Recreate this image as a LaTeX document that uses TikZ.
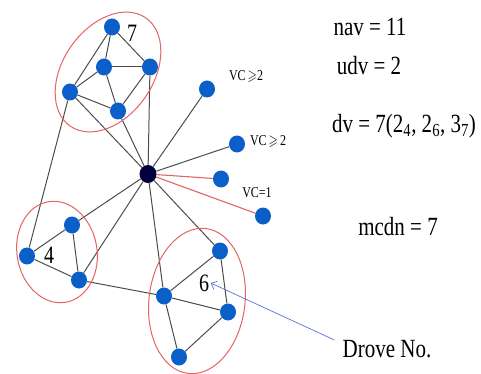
\documentclass[tikz,border=0pt]{standalone}
\usepackage{fontspec}
\setmainfont{Liberation Serif}
\usepackage{amssymb}
\usepackage{graphicx}
\usetikzlibrary{shapes.geometric,arrows.meta}

\definecolor{vblue}{RGB}{10,95,200}
\definecolor{hubnavy}{RGB}{0,0,60}
\definecolor{droved}{RGB}{228,100,100}
\definecolor{pointer}{RGB}{95,110,215}

\newcommand{\tall}[1]{\scalebox{1}[1.25]{#1}}

\begin{document}
\begin{tikzpicture}[
    x=1pt, y=-1pt,
    >={Straight Barb[length=5pt,width=9pt]},
    vx/.style={ellipse, fill=vblue, minimum width=16pt, minimum height=17pt, inner sep=0pt},
    hub/.style={ellipse, fill=hubnavy, minimum width=17pt, minimum height=18pt, inner sep=0pt},
    edge/.style={draw=black!70, line width=1pt},
    redge/.style={draw=droved, line width=1.1pt},
    droveline/.style={draw=droved, line width=1pt},
    info/.style={font=\fontsize{21}{25}\selectfont, inner sep=0pt},
    num/.style={font=\fontsize{20}{24}\selectfont, inner sep=1.5pt},
    vc/.style={font=\fontsize{12}{14}\selectfont, inner sep=0pt}
]
\useasboundingbox (0,0) rectangle (481,374);

% Central vertex
\node[hub] (H) at (148,174) {};

% Drove 7 (top)
\node[vx] (T1) at (112,27) {};
\node[vx] (T2) at (104,67) {};
\node[vx] (T3) at (150,67) {};
\node[vx] (T4) at (70,92) {};
\node[vx] (T5) at (118,111) {};
\node[num] (seven) at (132,33) {\tall{7}};

% Drove 4 (left)
\node[vx] (L1) at (27,256) {};
\node[vx] (L2) at (72,225) {};
\node[vx] (L3) at (79,280) {};
\node[num] (four) at (49,255) {\tall{4}};

% Drove 6 (bottom)
\node[vx] (B1) at (164,296) {};
\node[vx] (B2) at (220,251) {};
\node[vx] (B3) at (228,312) {};
\node[vx] (B4) at (179,357) {};
\node[num] (six) at (204,283) {\tall{6}};

% Pendant vertices
\node[vx] (R1) at (207,89) {};
\node[vx] (R2) at (237,144) {};
\node[vx] (R3) at (221,179) {};
\node[vx] (R4) at (263,216) {};
\node[vc] (vcA) at (246,77) {\tall{VC\,$\geqslant$2}};
\node[vc] (vcB) at (268,142) {\tall{VC\,$\geqslant$\,2}};
\node[vc] (vcC) at (257,193) {\tall{VC=1}};

% Edges inside the droves
\draw[edge] (T1) -- (T2);
\draw[edge] (T1) -- (T3);
\draw[edge] (T1) -- (T4);
\draw[edge] (T2) -- (T3);
\draw[edge] (T2) -- (T4);
\draw[edge] (T2) -- (T5);
\draw[edge] (T3) -- (T5);
\draw[edge] (T4) -- (T5);
\draw[edge] (L1) -- (L2);
\draw[edge] (L2) -- (L3);
\draw[edge] (L1) -- (L3);
\draw[edge] (B1) -- (B2);
\draw[edge] (B1) -- (B3);
\draw[edge] (B2) -- (B3);
\draw[edge] (B1) -- (B4);
\draw[edge] (B3) -- (B4);

% Edges between droves and to the centre
\draw[edge] (T3) -- (H);
\draw[edge] (T4) -- (H);
\draw[edge] (T5) -- (H);
\draw[edge] (L2) -- (H);
\draw[edge] (L3) -- (H);
\draw[edge] (B1) -- (H);
\draw[edge] (B2) -- (H);
\draw[edge] (T4) -- (L1);
\draw[edge] (L3) -- (B1);
\draw[edge] (H) -- (R1);
\draw[edge] (H) -- (R2);
\draw[redge] (H) -- (R3);
\draw[redge] (H) -- (R4);

% Drove outlines
\draw[droveline, rotate around={55:(108,72)}] (108,72) ellipse [x radius=66pt, y radius=45pt];
\draw[droveline, rotate around={10:(57,252)}] (57,252) ellipse [x radius=40pt, y radius=51pt];
\draw[droveline, rotate around={-7:(197,301)}] (197,301) ellipse [x radius=48pt, y radius=73pt];

% Values
\node[info] (nav) at (370,27) {\tall{nav = 11}};
\node[info] (udv) at (369,66) {\tall{udv = 2}};
\node[info] (dv) at (404,126) {\tall{dv = 7(2\textsubscript{4}, 2\textsubscript{6}, 3\textsubscript{7})}};
\node[info] (mcdn) at (398,227) {\tall{mcdn = 7}};
\node[info] (drove) at (387,349) {\tall{Drove No.}};

% Pointer to drove number
\draw[->, pointer, line width=0.7pt] ([xshift=-8pt]drove.north west) -- (six.east);

\end{tikzpicture}
\end{document}
